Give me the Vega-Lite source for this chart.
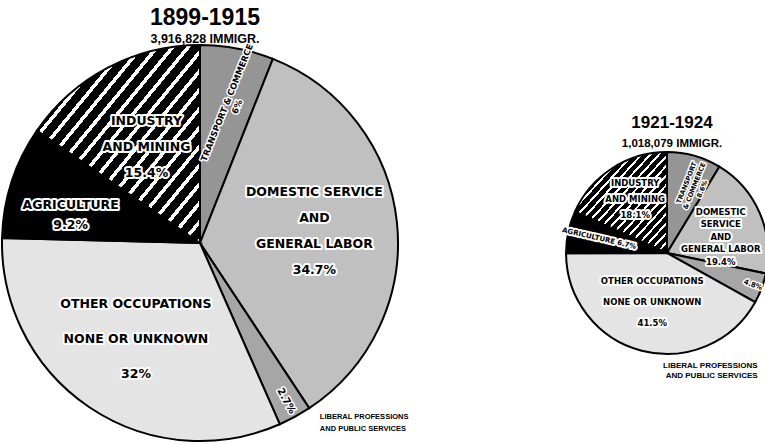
{
  "$schema": "https://vega.github.io/schema/vega-lite/v6.json",
  "width": 765,
  "height": 444,
  "padding": 0,
  "autosize": {"type": "none"},
  "background": "white",
  "config": {"view": {"stroke": null}, "text": {"lineBreak": "\n"}},
  "data": {
    "values": [
      {"period": "1899-1915", "total": 3916828, "occupation": "Transport & Commerce", "share": 6.0, "label": "TRANSPORT & COMMERCE\n6%"},
      {"period": "1899-1915", "total": 3916828, "occupation": "Domestic Service & General Labor", "share": 34.7, "label": "DOMESTIC SERVICE\nAND\nGENERAL LABOR\n34.7%"},
      {"period": "1899-1915", "total": 3916828, "occupation": "Liberal Professions & Public Services", "share": 2.7, "label": "2.7%"},
      {"period": "1899-1915", "total": 3916828, "occupation": "Other Occupations, None or Unknown", "share": 32.0, "label": "OTHER OCCUPATIONS\nNONE OR UNKNOWN\n32%"},
      {"period": "1899-1915", "total": 3916828, "occupation": "Agriculture", "share": 9.2, "label": "AGRICULTURE\n9.2%"},
      {"period": "1899-1915", "total": 3916828, "occupation": "Industry & Mining", "share": 15.4, "label": "INDUSTRY\nAND MINING\n15.4%"},
      {"period": "1921-1924", "total": 1018079, "occupation": "Transport & Commerce", "share": 8.6, "label": "TRANSPORT\n& COMMERCE\n8.6%"},
      {"period": "1921-1924", "total": 1018079, "occupation": "Domestic Service & General Labor", "share": 19.4, "label": "DOMESTIC\nSERVICE\nAND\nGENERAL LABOR\n19.4%"},
      {"period": "1921-1924", "total": 1018079, "occupation": "Liberal Professions & Public Services", "share": 4.8, "label": "4.8%"},
      {"period": "1921-1924", "total": 1018079, "occupation": "Other Occupations, None or Unknown", "share": 41.5, "label": "OTHER OCCUPATIONS\nNONE OR UNKNOWN\n41.5%"},
      {"period": "1921-1924", "total": 1018079, "occupation": "Agriculture", "share": 6.7, "label": "AGRICULTURE 6.7%"},
      {"period": "1921-1924", "total": 1018079, "occupation": "Industry & Mining", "share": 18.1, "label": "INDUSTRY\nAND MINING\n18.1%"}
    ]
  },
  "encoding": {
    "x": {"field": "period", "type": "nominal", "scale": {"type": "point", "domain": ["1899-1915", "1921-1924"], "range": [200, 667], "padding": 0}, "axis": null},
    "y": {"field": "period", "type": "nominal", "scale": {"type": "point", "domain": ["1899-1915", "1921-1924"], "range": [243, 253], "padding": 0}, "axis": null}
  },
  "layer": [
    {
      "mark": {"type": "arc", "stroke": "black", "strokeWidth": 2},
      "encoding": {
        "theta": {"field": "share", "type": "quantitative", "stack": "normalize"},
        "radius": {"field": "total", "type": "quantitative", "scale": {"type": "sqrt", "zero": true, "range": [0, 198]}},
        "fill": {
          "condition": [
            {"test": "datum.occupation === 'Agriculture'", "value": "black"},
            {"test": "datum.occupation === 'Industry & Mining'", "value": {"gradient": "linear", "x1": 0, "y1": 0, "x2": 1, "y2": 1, "stops": [
              {"offset": 0, "color": "#000"}, {"offset": 0.033, "color": "#000"}, {"offset": 0.033, "color": "#fff"}, {"offset": 0.0476, "color": "#fff"},
              {"offset": 0.0476, "color": "#000"}, {"offset": 0.0809, "color": "#000"}, {"offset": 0.0809, "color": "#fff"}, {"offset": 0.0952, "color": "#fff"},
              {"offset": 0.0952, "color": "#000"}, {"offset": 0.1285, "color": "#000"}, {"offset": 0.1285, "color": "#fff"}, {"offset": 0.1429, "color": "#fff"},
              {"offset": 0.1429, "color": "#000"}, {"offset": 0.1762, "color": "#000"}, {"offset": 0.1762, "color": "#fff"}, {"offset": 0.1905, "color": "#fff"},
              {"offset": 0.1905, "color": "#000"}, {"offset": 0.2238, "color": "#000"}, {"offset": 0.2238, "color": "#fff"}, {"offset": 0.2381, "color": "#fff"},
              {"offset": 0.2381, "color": "#000"}, {"offset": 0.2714, "color": "#000"}, {"offset": 0.2714, "color": "#fff"}, {"offset": 0.2857, "color": "#fff"},
              {"offset": 0.2857, "color": "#000"}, {"offset": 0.319, "color": "#000"}, {"offset": 0.319, "color": "#fff"}, {"offset": 0.3333, "color": "#fff"},
              {"offset": 0.3333, "color": "#000"}, {"offset": 0.3666, "color": "#000"}, {"offset": 0.3666, "color": "#fff"}, {"offset": 0.381, "color": "#fff"},
              {"offset": 0.381, "color": "#000"}, {"offset": 0.4143, "color": "#000"}, {"offset": 0.4143, "color": "#fff"}, {"offset": 0.4286, "color": "#fff"},
              {"offset": 0.4286, "color": "#000"}, {"offset": 0.4619, "color": "#000"}, {"offset": 0.4619, "color": "#fff"}, {"offset": 0.4762, "color": "#fff"},
              {"offset": 0.4762, "color": "#000"}, {"offset": 0.5095, "color": "#000"}, {"offset": 0.5095, "color": "#fff"}, {"offset": 0.5238, "color": "#fff"},
              {"offset": 0.5238, "color": "#000"}, {"offset": 0.5571, "color": "#000"}, {"offset": 0.5571, "color": "#fff"}, {"offset": 0.5714, "color": "#fff"},
              {"offset": 0.5714, "color": "#000"}, {"offset": 0.6047, "color": "#000"}, {"offset": 0.6047, "color": "#fff"}, {"offset": 0.619, "color": "#fff"},
              {"offset": 0.619, "color": "#000"}, {"offset": 0.6523, "color": "#000"}, {"offset": 0.6523, "color": "#fff"}, {"offset": 0.6667, "color": "#fff"},
              {"offset": 0.6667, "color": "#000"}, {"offset": 0.7, "color": "#000"}, {"offset": 0.7, "color": "#fff"}, {"offset": 0.7143, "color": "#fff"},
              {"offset": 0.7143, "color": "#000"}, {"offset": 0.7476, "color": "#000"}, {"offset": 0.7476, "color": "#fff"}, {"offset": 0.7619, "color": "#fff"},
              {"offset": 0.7619, "color": "#000"}, {"offset": 0.7952, "color": "#000"}, {"offset": 0.7952, "color": "#fff"}, {"offset": 0.8095, "color": "#fff"},
              {"offset": 0.8095, "color": "#000"}, {"offset": 0.8428, "color": "#000"}, {"offset": 0.8428, "color": "#fff"}, {"offset": 0.8571, "color": "#fff"},
              {"offset": 0.8571, "color": "#000"}, {"offset": 0.8904, "color": "#000"}, {"offset": 0.8904, "color": "#fff"}, {"offset": 0.9048, "color": "#fff"},
              {"offset": 0.9048, "color": "#000"}, {"offset": 0.9381, "color": "#000"}, {"offset": 0.9381, "color": "#fff"}, {"offset": 0.9524, "color": "#fff"},
              {"offset": 0.9524, "color": "#000"}, {"offset": 0.9857, "color": "#000"}, {"offset": 0.9857, "color": "#fff"}, {"offset": 1, "color": "#fff"}
            ]}},
            {"test": "datum.occupation === 'Transport & Commerce'", "value": "#959595"},
            {"test": "datum.occupation === 'Domestic Service & General Labor'", "value": "#c0c0c0"},
            {"test": "datum.occupation === 'Liberal Professions & Public Services'", "value": "#a6a6a6"}
          ],
          "value": "#e4e4e4"
        }
      }
    },
    {
      "encoding": {
        "theta": {"field": "share", "type": "quantitative", "stack": "normalize"},
        "radius": {"field": "total", "type": "quantitative", "scale": {"type": "sqrt", "zero": true, "range": [0, 115]}},
        "size": {"condition": {"test": "datum.period === '1921-1924'", "value": 8.5}, "value": 12.5}
      },
      "layer": [
        {"mark": {"type": "text", "font": "DejaVu Sans", "fontWeight": "bold", "align": "center", "baseline": "middle", "lineBreak": "\n",
          "lineHeight": {"expr": "datum.period === '1899-1915' ? (datum.occupation === 'Other Occupations, None or Unknown' ? 35 : 26) : (datum.occupation === 'Other Occupations, None or Unknown' ? 21 : (datum.occupation === 'Domestic Service & General Labor' ? 12.5 : 16))"},
          "dy": {"expr": "datum.period === '1899-1915' ? (datum.occupation === 'Other Occupations, None or Unknown' ? -35 : (datum.occupation === 'Domestic Service & General Labor' ? -39 : -20)) : (datum.occupation === 'Other Occupations, None or Unknown' ? -29 : (datum.occupation === 'Domestic Service & General Labor' ? -18 : -21))"},
          "text": {"expr": "(datum.occupation === 'Industry & Mining' || datum.occupation === 'Domestic Service & General Labor' || datum.occupation === 'Other Occupations, None or Unknown') ? datum.label : ''"},
          "fill": "white", "stroke": "white", "strokeWidth": 4, "strokeJoin": "round"}},
        {"mark": {"type": "text", "font": "DejaVu Sans", "fontWeight": "bold", "align": "center", "baseline": "middle", "lineBreak": "\n",
          "lineHeight": {"expr": "datum.period === '1899-1915' ? (datum.occupation === 'Other Occupations, None or Unknown' ? 35 : 26) : (datum.occupation === 'Other Occupations, None or Unknown' ? 21 : (datum.occupation === 'Domestic Service & General Labor' ? 12.5 : 16))"},
          "dy": {"expr": "datum.period === '1899-1915' ? (datum.occupation === 'Other Occupations, None or Unknown' ? -35 : (datum.occupation === 'Domestic Service & General Labor' ? -39 : -20)) : (datum.occupation === 'Other Occupations, None or Unknown' ? -29 : (datum.occupation === 'Domestic Service & General Labor' ? -18 : -21))"},
          "text": {"expr": "(datum.occupation === 'Industry & Mining' || datum.occupation === 'Domestic Service & General Labor' || datum.occupation === 'Other Occupations, None or Unknown') ? datum.label : ''"},
          "fill": "black"}}
      ]
    },
    {
      "encoding": {
        "theta": {"field": "share", "type": "quantitative", "stack": "normalize"},
        "radius": {"field": "total", "type": "quantitative", "scale": {"type": "sqrt", "zero": true, "range": [0, 136]}},
        "size": {"condition": {"test": "datum.period === '1921-1924'", "value": 7}, "value": 12.5},
        "angle": {"condition": {"test": "datum.period === '1921-1924'", "value": 13}, "value": 0}
      },
      "layer": [
        {"mark": {"type": "text", "font": "DejaVu Sans", "fontWeight": "bold", "align": "center", "baseline": "middle", "lineHeight": 20, "lineBreak": "\n",
          "dy": {"expr": "datum.period === '1899-1915' ? 4 : 0"},
          "text": {"expr": "datum.occupation === 'Agriculture' ? datum.label : ''"},
          "fill": "white", "stroke": "white", "strokeWidth": 4, "strokeJoin": "round"}},
        {"mark": {"type": "text", "font": "DejaVu Sans", "fontWeight": "bold", "align": "center", "baseline": "middle", "lineHeight": 20, "lineBreak": "\n",
          "dy": {"expr": "datum.period === '1899-1915' ? 4 : 0"},
          "text": {"expr": "datum.occupation === 'Agriculture' ? datum.label : ''"},
          "fill": "black"}}
      ]
    },
    {
      "encoding": {
        "theta": {"field": "share", "type": "quantitative", "stack": "normalize"},
        "radius": {"field": "total", "type": "quantitative", "scale": {"type": "sqrt", "zero": true, "range": [0, 143]}},
        "size": {"condition": {"test": "datum.period === '1921-1924'", "value": 6.5}, "value": 8.5},
        "angle": {"value": 292}
      },
      "layer": [
        {"mark": {"type": "text", "font": "DejaVu Sans", "fontWeight": "bold", "align": "center", "baseline": "middle", "lineBreak": "\n",
          "lineHeight": {"expr": "datum.period === '1899-1915' ? 11 : 8.5"},
          "text": {"expr": "datum.occupation === 'Transport & Commerce' ? datum.label : ''"},
          "fill": "white", "stroke": "white", "strokeWidth": 3, "strokeJoin": "round"}},
        {"mark": {"type": "text", "font": "DejaVu Sans", "fontWeight": "bold", "align": "center", "baseline": "middle", "lineBreak": "\n",
          "lineHeight": {"expr": "datum.period === '1899-1915' ? 11 : 8.5"},
          "text": {"expr": "datum.occupation === 'Transport & Commerce' ? datum.label : ''"},
          "fill": "black"}}
      ]
    },
    {
      "encoding": {
        "theta": {"field": "share", "type": "quantitative", "stack": "normalize"},
        "radius": {"field": "total", "type": "quantitative", "scale": {"type": "sqrt", "zero": true, "range": [0, 180]}},
        "size": {"condition": {"test": "datum.period === '1921-1924'", "value": 7}, "value": 10},
        "angle": {"condition": {"test": "datum.period === '1921-1924'", "value": 20}, "value": 61}
      },
      "layer": [
        {"mark": {"type": "text", "font": "DejaVu Sans", "fontWeight": "bold", "align": "center", "baseline": "middle",
          "text": {"expr": "datum.occupation === 'Liberal Professions & Public Services' ? datum.label : ''"},
          "fill": "white", "stroke": "white", "strokeWidth": 3, "strokeJoin": "round"}},
        {"mark": {"type": "text", "font": "DejaVu Sans", "fontWeight": "bold", "align": "center", "baseline": "middle",
          "text": {"expr": "datum.occupation === 'Liberal Professions & Public Services' ? datum.label : ''"},
          "fill": "black"}}
      ]
    },
    {
      "mark": {"type": "text", "font": "Liberation Sans", "fontWeight": "bold", "baseline": "top", "lineBreak": "\n",
        "align": {"expr": "datum.period === '1899-1915' ? 'left' : 'right'"},
        "dx": {"expr": "datum.period === '1899-1915' ? 25 : -4"},
        "dy": {"expr": "datum.period === '1899-1915' ? -4 : 74"},
        "lineHeight": {"expr": "datum.period === '1899-1915' ? 12 : 10"},
        "text": {"expr": "datum.occupation === 'Liberal Professions & Public Services' ? 'LIBERAL PROFESSIONS\\nAND PUBLIC SERVICES' : ''"},
        "fill": "black"},
      "encoding": {
        "theta": {"field": "share", "type": "quantitative", "stack": "normalize"},
        "radius": {"field": "total", "type": "quantitative", "scale": {"type": "sqrt", "zero": true, "range": [0, 198]}},
        "size": {"condition": {"test": "datum.period === '1921-1924'", "value": 8}, "value": 7.5}
      }
    },
    {
      "transform": [{"aggregate": [{"op": "max", "field": "total", "as": "total"}], "groupby": ["period"]}],
      "layer": [
        {"mark": {"type": "text", "font": "Liberation Sans", "fontWeight": "bold", "align": "center", "baseline": "alphabetic",
          "dx": 5, "dy": {"expr": "datum.period === '1899-1915' ? -218 : -125"}, "fill": "black"},
         "encoding": {"text": {"field": "period"}, "size": {"condition": {"test": "datum.period === '1921-1924'", "value": 17}, "value": 23}}},
        {"mark": {"type": "text", "font": "Liberation Sans", "fontWeight": "bold", "align": "center", "baseline": "alphabetic",
          "dx": 5, "dy": {"expr": "datum.period === '1899-1915' ? -200 : -106"}, "fill": "black",
          "text": {"expr": "format(datum.total, ',') + ' IMMIGR.'"}},
         "encoding": {"size": {"condition": {"test": "datum.period === '1921-1924'", "value": 11.5}, "value": 12.5}}}
      ]
    }
  ],
  "resolve": {"scale": {"radius": "independent"}}
}
